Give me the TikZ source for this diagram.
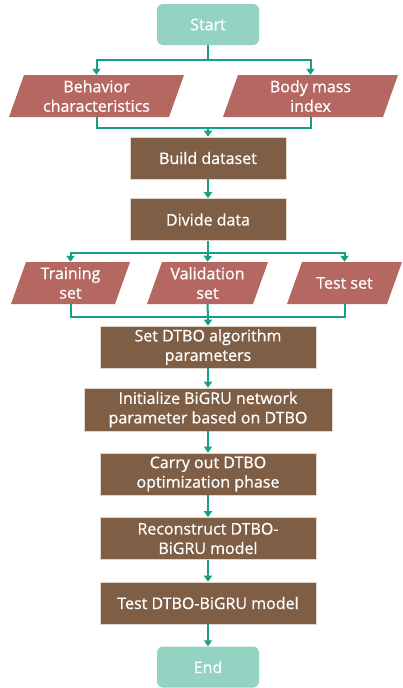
\documentclass[tikz,border=0pt]{standalone}
\usepackage{fontspec}
\setmainfont{Open Sans}[FakeBold=0.7]
\usetikzlibrary{arrows.meta}
\definecolor{teal}{RGB}{22,160,133}
\definecolor{termcol}{RGB}{148,210,194}
\definecolor{parcol}{RGB}{181,103,98}
\definecolor{boxcol}{RGB}{127,94,70}
\definecolor{boxline}{RGB}{225,214,204}
\begin{document}
\begin{tikzpicture}[x=1pt,y=-1pt,
  every node/.style={font=\fontsize{16}{19.5}\selectfont, text=white, align=center, inner sep=0pt},
  term/.style={fill=termcol, rounded corners=6pt, minimum width=102pt, minimum height=41pt},
  procbox/.style={fill=boxcol, draw=boxline, line width=0.6pt, minimum width=#1, minimum height=42pt},
  para/.style={minimum width=#1, minimum height=42pt,
    path picture={\fill[parcol] ([xshift=15pt]path picture bounding box.north west) -- (path picture bounding box.north east) -- ([xshift=-15pt]path picture bounding box.south east) -- (path picture bounding box.south west) -- cycle;}},
  conn/.style={draw=teal, line width=2pt},
  arr/.style={conn, -{Triangle[length=6pt,width=8pt]}}
]
\fill[white] (0,0) rectangle (402,688);
\node[term] (start) at (208,24.5) {Start};
\node[para=175pt] (beh) at (96.5,96) {Behavior\\characteristics};
\node[para=175pt] (bmi) at (310.5,96) {Body mass\\index};
\node[procbox=156pt] (build) at (208,158) {Build dataset};
\node[procbox=156pt] (divide) at (208,219.5) {Divide data};
\node[para=119pt] (train) at (70.5,283) {Training\\set};
\node[para=121pt] (valid) at (207.5,283) {Validation\\set};
\node[para=115pt] (test) at (344.5,283) {Test set};
\node[procbox=216pt] (setp) at (208,347) {Set DTBO algorithm\\parameters};
\node[procbox=248pt, minimum height=43pt] (init) at (208,409.5) {Initialize BiGRU network\\parameter based on DTBO};
\node[procbox=216pt] (carry) at (208,474) {Carry out DTBO\\optimization phase};
\node[procbox=216pt] (recon) at (208,538.5) {Reconstruct DTBO-\\BiGRU model};
\node[procbox=216pt] (testm) at (208,603) {Test DTBO-BiGRU model};
\node[term] (end) at (208,667) {End};

\coordinate (j1) at (208,60);
\coordinate (j2) at (208,128);
\coordinate (j3) at (208,253);
\coordinate (j4) at (208,317);

\draw[conn] (start.south) -- (j1);
\draw[arr] (j1) -| (beh.north);
\draw[arr] (j1) -| (bmi.north);
\draw[conn] (beh.south) |- (j2);
\draw[conn] (bmi.south) |- (j2);
\draw[arr] (j2) -- (build.north);
\draw[arr] (build.south) -- (divide.north);
\draw[conn] (divide.south) -- (j3);
\draw[arr] (j3) -| (train.north);
\draw[arr] (j3) -| (test.north);
\draw[arr] (j3) -- (valid.north);
\draw[conn] (train.south) |- (j4);
\draw[conn] (test.south) |- (j4);
\draw[conn] (valid.south) -- (j4);
\draw[arr] (j4) -- (setp.north);
\draw[arr] (setp.south) -- (init.north);
\draw[arr] (init.south) -- (carry.north);
\draw[arr] (carry.south) -- (recon.north);
\draw[arr] (recon.south) -- (testm.north);
\draw[arr] (testm.south) -- (end.north);
\end{tikzpicture}
\end{document}
